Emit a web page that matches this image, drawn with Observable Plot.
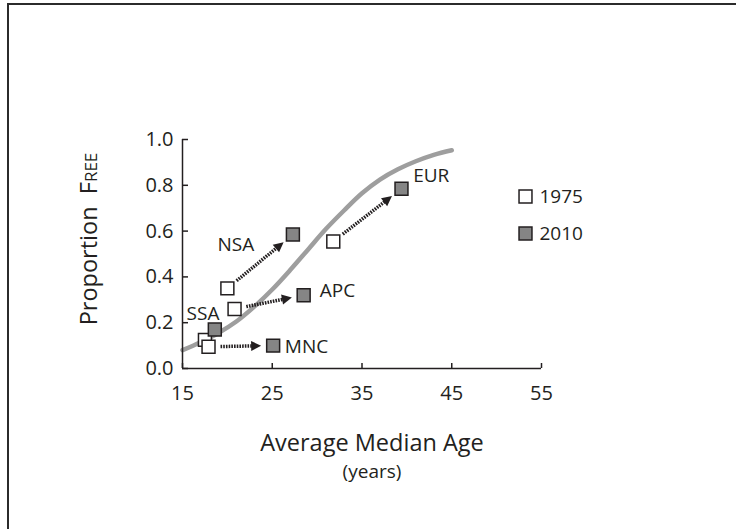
<!DOCTYPE html>
<html><head><meta charset="utf-8">
<script src="https://cdn.jsdelivr.net/npm/d3@7"></script>
<script src="https://cdn.jsdelivr.net/npm/@observablehq/plot@0.6"></script>
<style>
body{margin:0;background:#fff;}
#wrap{position:relative;width:736px;height:529px;overflow:hidden;}
#wrap svg{position:absolute;left:0;top:0;}
#frame{position:absolute;left:7px;top:3px;right:-10px;bottom:-10px;border-left:2px solid #2b2b2b;border-top:2px solid #2b2b2b;pointer-events:none;}
</style></head><body><div id="wrap"><div id="frame"></div></div>
<script>
const regions = ["NSA", "APC", "EUR", "SSA", "MNC"];
const age1975 = [20.0, 20.8, 31.8, 17.5, 17.9];
const free1975 = [0.35, 0.26, 0.555, 0.125, 0.095];
const age2010 = [27.3, 28.5, 39.4, 18.6, 25.1];
const free2010 = [0.585, 0.32, 0.785, 0.17, 0.10];
const labelAge = [18.9, 30.3, 40.7, 15.45, 26.4];
const labelFree = [0.54, 0.34, 0.84, 0.24, 0.095];
const curveAge = [15, 17, 19, 21, 23, 25, 27, 29, 31, 33, 35, 37, 39, 41, 43, 45];
const curveFree = [0.08, 0.115, 0.155, 0.205, 0.27, 0.345, 0.43, 0.52, 0.61, 0.69, 0.765, 0.825, 0.87, 0.905, 0.933, 0.953];
const xTicks = [15, 25, 35, 45, 55];
const yTicks = [0, 0.2, 0.4, 0.6, 0.8, 1.0];
const years = ["1975", "2010"];
const xTitle = "Average Median Age";
const xSubTitle = "(years)";
const yTitle = ["Proportion\u00A0\u00A0F", "REE"];

const ink = "#231f20";
const font = "Open Sans";

const plot = Plot.plot({
  width: 736, height: 529,
  marginLeft: 182, marginRight: 195, marginTop: 139, marginBottom: 161,
  x: {domain: [15, 55]},
  y: {domain: [0, 1]},
  style: {fontFamily: font, fontSize: "18px", color: ink, background: "transparent"},
  marks: [
    Plot.line(curveAge, {x: d => d, y: (d, i) => curveFree[i], stroke: "#9e9e9e", strokeWidth: 4.5, curve: "catmull-rom"}),
    Plot.ruleX([15], {stroke: ink, strokeWidth: 1.5}),
    Plot.ruleY([0], {stroke: ink, strokeWidth: 1.5}),
    Plot.tickX(xTicks, {x: d => d, insetTop: 224, stroke: ink, strokeWidth: 1.5}),
    Plot.tickY(yTicks, {y: d => d, insetRight: 353, stroke: ink, strokeWidth: 1.5}),
    Plot.axisX({ticks: xTicks, tickSize: 0, tickPadding: 17, tickFormat: d => String(d), label: null, fontSize: 20}),
    Plot.axisY({ticks: yTicks, tickSize: 0, tickPadding: 9, tickFormat: d3.format(".1f"), label: null, fontSize: 20}),
    Plot.arrow(regions, {x1: age1975, y1: free1975, x2: age2010, y2: free2010, insetStart: 12, insetEnd: 12, stroke: ink, strokeWidth: 3.5, strokeLinecap: "butt", headLength: 0}),
    Plot.dot(regions, {x: age1975, y: free1975, symbol: "square", r: 7.3, fill: "white", stroke: ink, strokeWidth: 1.5}),
    Plot.dot(regions, {x: age2010, y: free2010, symbol: "square", r: 7.3, fill: "#858585", stroke: ink, strokeWidth: 1.5}),
    Plot.text(regions, {x: labelAge, y: labelFree, text: d => d, textAnchor: "start", fontSize: 19, fill: ink}),
    Plot.dot([years[0]], {frameAnchor: "top-right", dx: -16, dy: 57, symbol: "square", r: 7.3, fill: "white", stroke: ink, strokeWidth: 1.5}),
    Plot.dot([years[1]], {frameAnchor: "top-right", dx: -16, dy: 94, symbol: "square", r: 7.3, fill: "#858585", stroke: ink, strokeWidth: 1.5}),
    Plot.text([years[0]], {frameAnchor: "top-right", dx: -2, dy: 57, text: d => d, textAnchor: "start", lineAnchor: "middle", fontSize: 19, fill: ink}),
    Plot.text([years[1]], {frameAnchor: "top-right", dx: -2, dy: 94, text: d => d, textAnchor: "start", lineAnchor: "middle", fontSize: 19, fill: ink}),
    Plot.text([xTitle], {frameAnchor: "bottom", dx: 10, dy: 75, text: d => d, textAnchor: "middle", lineAnchor: "middle", fontSize: 23.5, fill: ink}),
    Plot.text([xSubTitle], {frameAnchor: "bottom", dx: 10, dy: 103, text: d => d, textAnchor: "middle", lineAnchor: "middle", fontSize: 19, fill: ink}),
    Plot.text([yTitle[0]], {frameAnchor: "left", dx: -93, dy: -15, rotate: -90, text: d => d, textAnchor: "middle", lineAnchor: "middle", fontSize: 23.5, fill: ink})
  ]
});

document.getElementById("wrap").appendChild(plot);

// dotted shafts with filled arrowheads
d3.select(plot).selectAll('g[aria-label="arrow"] path').each(function () {
  const d = this.getAttribute("d");
  if (!d) return;
  const n = d.match(/-?\d*\.?\d+(?:e-?\d+)?/g).map(Number);
  const [x1, y1, x2, y2] = n;
  const L = Math.hypot(x2 - x1, y2 - y1);
  const ux = (x2 - x1) / L, uy = (y2 - y1) / L;
  const hl = 10, hw = 5;
  const bx = x2 - ux * hl, by = y2 - uy * hl;
  this.setAttribute("d", `M${x1},${y1}L${bx + ux},${by + uy}`);
  this.setAttribute("stroke-dasharray", "1.6,1.1");
  this.setAttribute("stroke-linecap", "butt");
  d3.select(this.parentNode).append("path")
    .attr("d", `M${x2},${y2}L${bx - uy * hw},${by + ux * hw}L${bx + uy * hw},${by - ux * hw}Z`)
    .attr("fill", ink).attr("stroke", "none");
});

// small caps part of the y title
d3.select(plot).selectAll('g[aria-label="text"] text').each(function () {
  if (this.textContent === yTitle[0]) {
    d3.select(this).append("tspan").attr("font-size", 17).text(yTitle[1]);
  }
});
</script>
</body></html>
